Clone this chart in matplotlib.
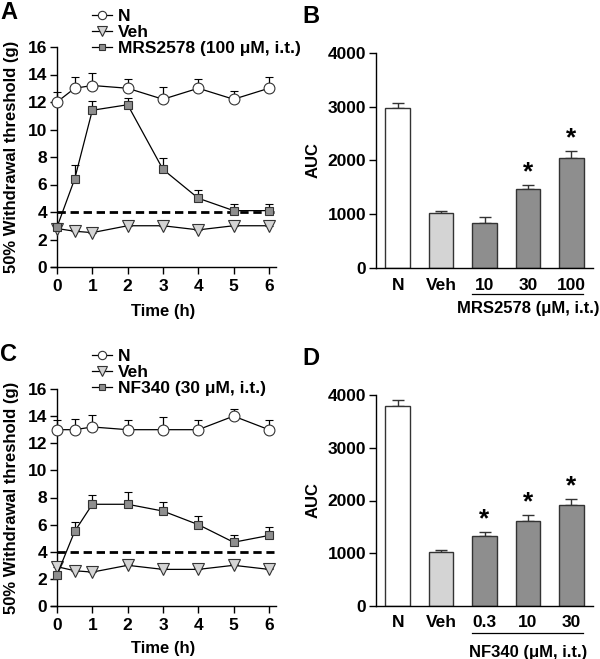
import numpy as np
import matplotlib
matplotlib.use("Agg")
import matplotlib.pyplot as plt
from matplotlib.lines import Line2D

plt.rcParams['font.family'] = ['Liberation Sans', 'DejaVu Sans']
plt.rcParams['font.weight'] = 'bold'
plt.rcParams['axes.labelweight'] = 'bold'

# ---- data ----
time_h = [0, 0.5, 1, 2, 3, 4, 5, 6]

a_N = [12.0, 13.0, 13.2, 13.0, 12.2, 13.0, 12.2, 13.0]
a_N_err = [0.7, 0.8, 0.9, 0.7, 0.9, 0.7, 0.6, 0.8]
a_Veh = [2.8, 2.6, 2.5, 3.0, 3.0, 2.7, 3.0, 3.0]
a_Veh_err = [0.1, 0.1, 0.1, 0.1, 0.1, 0.1, 0.1, 0.1]
a_Drug = [2.9, 6.4, 11.4, 11.8, 7.1, 5.0, 4.1, 4.1]
a_Drug_err = [0.2, 1.0, 0.7, 0.5, 0.8, 0.6, 0.5, 0.5]
a_drug_label = "MRS2578 (100 \u03bcM, i.t.)"

c_N = [13.0, 13.0, 13.2, 13.0, 13.0, 13.0, 14.0, 13.0]
c_N_err = [0.7, 0.8, 0.9, 0.7, 0.9, 0.7, 0.5, 0.7]
c_Veh = [2.9, 2.6, 2.5, 3.0, 2.7, 2.7, 3.0, 2.7]
c_Veh_err = [0.1, 0.1, 0.1, 0.1, 0.1, 0.1, 0.1, 0.1]
c_Drug = [2.3, 5.5, 7.5, 7.5, 7.0, 6.0, 4.7, 5.2]
c_Drug_err = [0.2, 0.7, 0.7, 0.9, 0.7, 0.6, 0.5, 0.6]
c_drug_label = "NF340 (30 \u03bcM, i.t.)"

threshold = 4

b_cats = ["N", "Veh", "10", "30", "100"]
b_vals = [2980, 1020, 840, 1470, 2040]
b_errs = [90, 40, 100, 70, 140]
b_sig = [False, False, False, True, True]
b_group = "MRS2578 (\u03bcM, i.t.)"

d_cats = ["N", "Veh", "0.3", "10", "30"]
d_vals = [3790, 1020, 1330, 1620, 1910]
d_errs = [110, 40, 80, 100, 120]
d_sig = [False, False, True, True, True]
d_group = "NF340 (\u03bcM, i.t.)"

W, H = 600, 659
fig = plt.figure(figsize=(6, 6.59), dpi=100)

def fx(px):
    return px / W

def fy(py):
    return 1 - py / H

FS = 12.5
LFS = 12
C_WHITE = 'white'
C_LIGHT = '#d4d4d4'
C_DARK = '#8e8e8e'
EDGE = '#333333'


def style_axes(ax):
    for s in ['top', 'right']:
        ax.spines[s].set_visible(False)
    for s in ['left', 'bottom']:
        ax.spines[s].set_linewidth(1.0)
    ax.tick_params(direction='out', length=5, width=1.0, labelsize=FS, pad=2)
    for lab in ax.get_xticklabels() + ax.get_yticklabels():
        lab.set_fontweight('bold')


def line_panel(top_px, bottom_px, N, Nerr, Veh, Veherr, Drug, Drugerr, label, letter,
               letter_base, leg_rows, xlab_pad):
    ax = fig.add_axes([fx(51), fy(bottom_px), fx(276 - 51), (bottom_px - top_px) / H])
    ax.set_xlim(-0.17, 6.2)
    ax.set_ylim(0, 16)
    ax.spines['left'].set_position(('data', 0))
    ax.spines['left'].set_bounds(0, 16)
    z = np.zeros(len(time_h))
    ax.plot([0, 6.15], [threshold, threshold], color='black', lw=2.0, ls=(0, (3, 1.7)), zorder=2)
    kw = dict(color='black', lw=0.9, capsize=2.8, elinewidth=0.9, capthick=0.9, markeredgecolor=EDGE,
              markeredgewidth=0.8, zorder=3)
    ax.errorbar(time_h, N, yerr=[z, Nerr], fmt='-o', markersize=7.8, markerfacecolor='white', **kw)
    ax.errorbar(time_h, Veh, yerr=[z, Veherr], fmt='-v', markersize=8, markerfacecolor=C_LIGHT, **kw)
    ax.errorbar(time_h, Drug, yerr=[z, Drugerr], fmt='-s', markersize=5.5, markerfacecolor=C_DARK, **kw)
    ax.set_xticks([0, 1, 2, 3, 4, 5, 6])
    ax.set_yticks(range(0, 17, 2))
    ax.set_xlabel("Time (h)", fontsize=LFS, fontweight='bold', labelpad=xlab_pad)
    ax.set_ylabel("50% Withdrawal threshold (g)", fontsize=LFS, fontweight='bold')
    ax.yaxis.set_label_coords((19 - 51) / 225, 0.5)
    style_axes(ax)
    ax.tick_params(axis='x', pad=3.5)
    # legend (manual rows, in figure pixels)
    styles = [
        dict(marker='o', markersize=6, markerfacecolor='white'),
        dict(marker='v', markersize=6.5, markerfacecolor=C_LIGHT),
        dict(marker='s', markersize=4.5, markerfacecolor=C_DARK),
    ]
    for row_y, st, txt in zip(leg_rows, styles, ["N", "Veh", label]):
        fig.add_artist(Line2D([fx(92), fx(112)], [fy(row_y), fy(row_y)], color='black', lw=0.9,
                              transform=fig.transFigure))
        fig.add_artist(Line2D([fx(102)], [fy(row_y)], color='black', lw=0, **st,
                              markeredgecolor=EDGE, markeredgewidth=0.8, transform=fig.transFigure))
        fig.text(fx(118), fy(row_y), txt, fontsize=LFS + 0.5, fontweight='bold', va='center_baseline',
                 ha='left')
    fig.text(fx(0), fy(letter_base), letter, fontsize=17, fontweight='bold', va='baseline', ha='left')
    return ax


def bar_panel(top_px, bottom_px, cats, vals, errs, sig, group, letter, letter_base,
              tick_pad, under_px, group_px):
    hpx = bottom_px - top_px
    ax = fig.add_axes([fx(376), fy(bottom_px), fx(593 - 376), hpx / H])
    x = np.arange(len(cats))
    colors = [C_WHITE, C_LIGHT] + [C_DARK] * (len(cats) - 2)
    z = np.zeros(len(cats))
    ax.bar(x, vals, width=0.57, color=colors, edgecolor=EDGE, linewidth=1.0, zorder=2)
    ax.errorbar(x, vals, yerr=[z, errs], fmt='none', ecolor=EDGE, elinewidth=1.0,
                capsize=4.5, capthick=1.0, zorder=1)
    for xi, v, e, s in zip(x, vals, errs, sig):
        if s:
            ax.text(xi, v + e + 10, "*", ha='center', va='bottom', fontsize=19, fontweight='bold')
    ax.set_xlim(-0.5, 4.5)
    ax.set_ylim(0, 4000)
    ax.spines['left'].set_bounds(0, 4000)
    ax.set_yticks([0, 1000, 2000, 3000, 4000])
    ax.set_xticks(x)
    ax.set_xticklabels(cats)
    ax.set_ylabel("AUC", fontsize=LFS, fontweight='bold')
    ax.yaxis.set_label_coords((321 - 376) / 217, 0.5)
    style_axes(ax)
    ax.tick_params(axis='x', length=0, pad=tick_pad)
    ax.plot([1.72, 4.28], [-under_px / hpx] * 2, transform=ax.get_xaxis_transform(),
            color='black', lw=0.9, clip_on=False)
    ax.text(3.0, -group_px / hpx, group, transform=ax.get_xaxis_transform(), ha='center', va='center',
            fontsize=LFS, fontweight='bold')
    fig.text(fx(302), fy(letter_base), letter, fontsize=17, fontweight='bold', va='baseline', ha='left')
    return ax

line_panel(47, 267, a_N, a_N_err, a_Veh, a_Veh_err, a_Drug, a_Drug_err, a_drug_label, "A",
           19, [15, 31, 47], 7)
bar_panel(53, 268, b_cats, b_vals, b_errs, b_sig, b_group, "B", 23, 7.5, 26, 41)
line_panel(389, 606, c_N, c_N_err, c_Veh, c_Veh_err, c_Drug, c_Drug_err, c_drug_label, "C",
           361, [355, 371, 387], 6)
bar_panel(395, 606, d_cats, d_vals, d_errs, d_sig, d_group, "D", 365, 6.5, 27, 46)

fig.savefig("out.png", dpi=100)
